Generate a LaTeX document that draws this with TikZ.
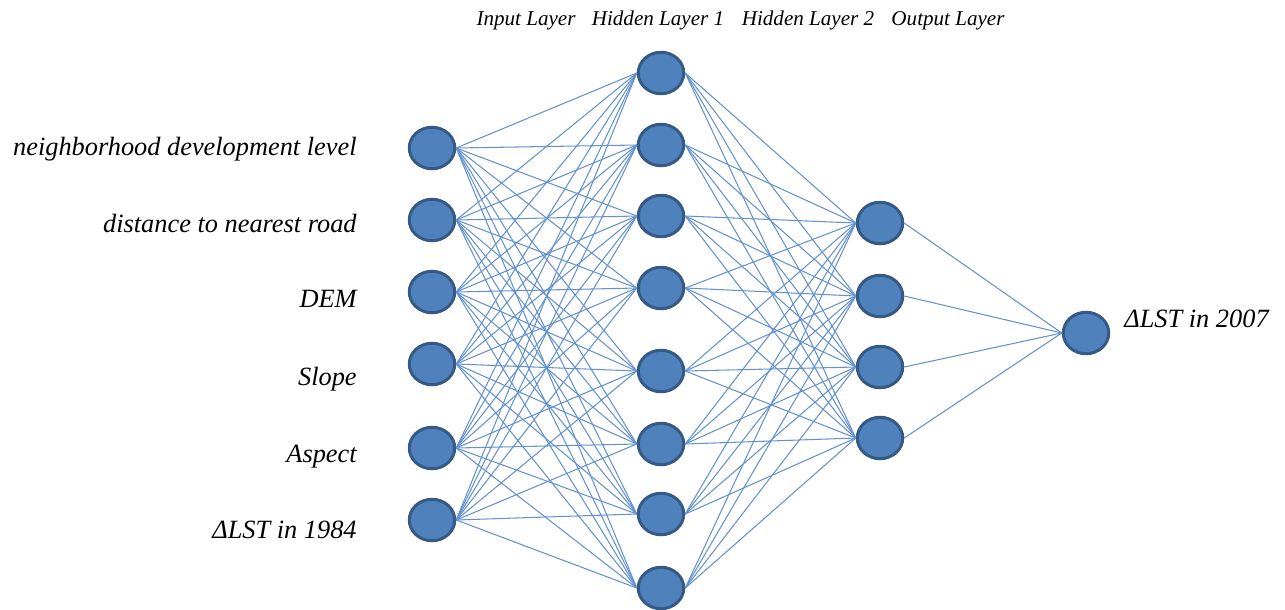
\documentclass[tikz,border=0pt]{standalone}
\usepackage{fontspec}
\setmainfont{Liberation Serif}
\usepackage{tikz}
\usetikzlibrary{shapes.geometric}
\definecolor{nodeblue}{RGB}{79,129,189}
\definecolor{nodeline}{RGB}{54,90,134}
\definecolor{linkblue}{RGB}{100,146,208}

\begin{document}
\begin{tikzpicture}[x=0.02cm,y=-0.02cm,
  neuron/.style={ellipse,draw=nodeline,fill=nodeblue,line width=1.7pt,
    minimum width=0.91cm,minimum height=0.83cm,inner sep=0pt},
  link/.style={draw=linkblue,line width=0.6pt},
  lbl/.style={font=\fontsize{15}{18}\selectfont\itshape,inner sep=0pt},
  head/.style={anchor=base,font=\fontsize{12}{14}\selectfont\itshape,inner sep=0pt}]
\useasboundingbox (0,0) rectangle (1285,609);

% layer titles
\node[head] (tin) at (526,25) {Input Layer};
\node[head] (tha) at (658,25) {Hidden Layer 1};
\node[head] (thb) at (808,25) {Hidden Layer 2};
\node[head] (tout) at (948,25) {Output Layer};

% neurons
\foreach \i/\y in {1/148,2/220,3/292,4/364,5/448,6/520}
  \node[neuron] (in\i) at (432,\y) {};
\foreach \i/\y in {1/73,2/145,3/216,4/288,5/371,6/444,7/514,8/588}
  \node[neuron] (ha\i) at (661,\y) {};
\foreach \i/\y in {1/223,2/296,3/367,4/438}
  \node[neuron] (hb\i) at (880,\y) {};
\node[neuron] (out) at (1086,333) {};

% connections
\foreach \i in {1,...,6}
  \foreach \j in {1,...,8}
    \draw[link] (in\i.east) -- (ha\j.west);
\foreach \i in {1,...,8}
  \foreach \j in {1,...,4}
    \draw[link] (ha\i.east) -- (hb\j.west);
\foreach \j in {1,...,4}
  \draw[link] (hb\j.east) -- (out.west);

% input names
\node[lbl,anchor=base east] (lab1) at (357,155) {neighborhood development level};
\node[lbl,anchor=base east] (lab2) at (357,232) {distance to nearest road};
\node[lbl,anchor=base east] (lab3) at (357,307) {DEM};
\node[lbl,anchor=base east] (lab4) at (357,385) {Slope};
\node[lbl,anchor=base east] (lab5) at (357,462) {Aspect};
\node[lbl,anchor=base east] (lab6) at (357,538) {ΔLST in 1984};
\node[lbl,anchor=base west] (labout) at (1124,327) {ΔLST in 2007};
\end{tikzpicture}
\end{document}
